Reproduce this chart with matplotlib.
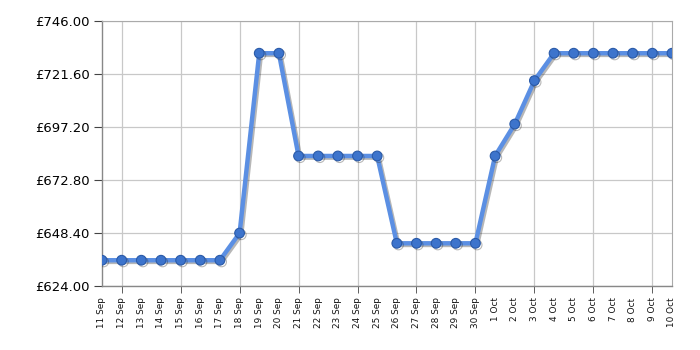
import matplotlib
matplotlib.use("Agg")
import matplotlib.pyplot as plt
import matplotlib.patheffects as pe
import numpy as np

dates = ["11 Sep", "12 Sep", "13 Sep", "14 Sep", "15 Sep", "16 Sep", "17 Sep", "18 Sep",
         "19 Sep", "20 Sep", "21 Sep", "22 Sep", "23 Sep", "24 Sep", "25 Sep", "26 Sep",
         "27 Sep", "28 Sep", "29 Sep", "30 Sep", "1 Oct", "2 Oct", "3 Oct", "4 Oct",
         "5 Oct", "6 Oct", "7 Oct", "8 Oct", "9 Oct", "10 Oct"]
prices = [636.0, 636.0, 636.0, 636.0, 636.0, 636.0, 636.0, 648.5,
          731.3, 731.3, 684.0, 684.0, 684.0, 684.0, 684.0, 643.8,
          643.8, 643.8, 643.8, 643.8, 684.0, 698.7, 718.7, 731.3,
          731.3, 731.3, 731.3, 731.3, 731.3, 731.3]
yticks = [624.00, 648.40, 672.80, 697.20, 721.60, 746.00]

fig = plt.figure(figsize=(7, 3.5), dpi=100)
ax = fig.add_axes([102/700, 1-286.3/350, (672-102)/700, (286.3-21.3)/350])
ax.xaxis.remove_overlapping_locs = False

x = np.arange(len(dates))
ax.plot(x, prices, color="#5b8fe3", linewidth=3.2, solid_joinstyle="round",
        marker="o", markersize=7, markerfacecolor="#3d74cc", markeredgecolor="#2a5aa8",
        markeredgewidth=0.8, zorder=3,
        path_effects=[pe.SimpleLineShadow(offset=(1.2, -1.2), shadow_color="#333333", alpha=0.35),
                      pe.Normal()])

ax.set_xlim(0, len(dates) - 1)
ax.set_ylim(yticks[0], yticks[-1])
ax.set_yticks(yticks)
ax.set_yticklabels([f"£{v:.2f}" for v in yticks], fontsize=9.5, color="#000000")

ax.set_xticks(x)
ax.set_xticklabels(dates, rotation=90, fontsize=6.4, color="#111111")
ax.tick_params(axis="x", which="major", length=0, pad=8)
ax.set_xticks(x[1::3], minor=True)
ax.tick_params(axis="x", which="minor", length=5, color="#444444")
ax.tick_params(axis="y", length=6, color="#444444", pad=3)

ax.grid(True, which="minor", axis="x", color="#c8c8c8", linewidth=0.9)
ax.grid(False, which="major", axis="x")
ax.grid(True, which="major", axis="y", color="#c8c8c8", linewidth=0.9)
ax.set_axisbelow(True)

for s in ["top", "right"]:
    ax.spines[s].set_color("#aaaaaa")
for s in ["left", "bottom"]:
    ax.spines[s].set_color("#888888")
    ax.spines[s].set_linewidth(1.0)

fig.savefig("out.png", dpi=100)
